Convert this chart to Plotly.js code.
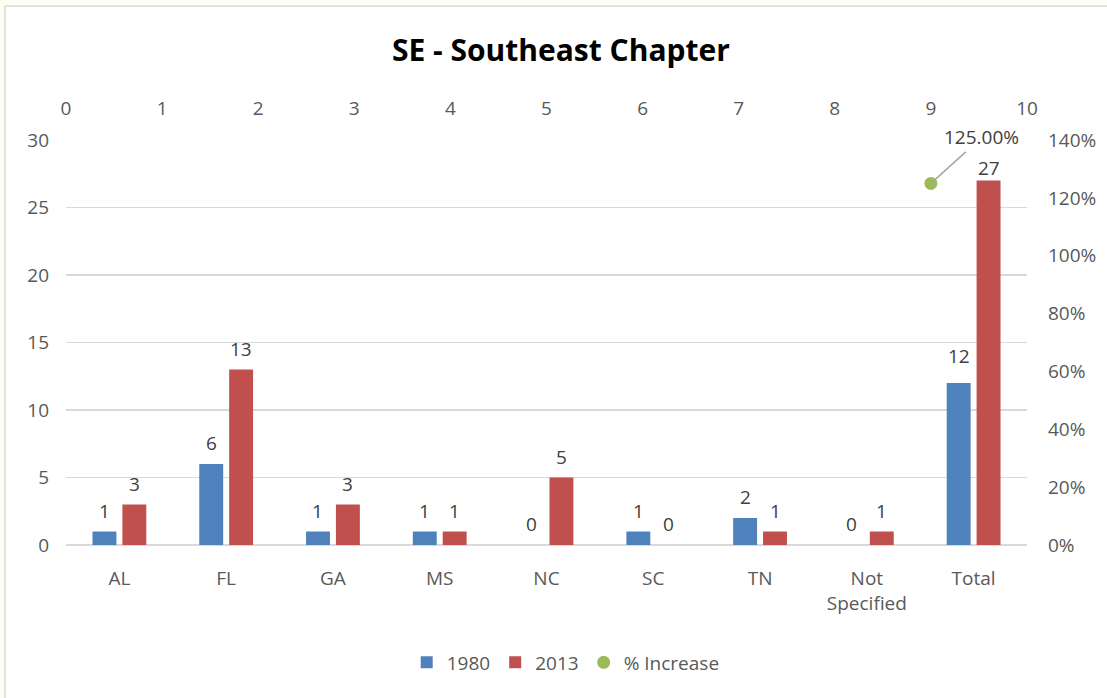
<!DOCTYPE html>
<html><head><meta charset="utf-8">
<script src="https://cdn.plot.ly/plotly-3.0.1.min.js"></script>
<style>html,body{margin:0;padding:0;background:#FDFDF3;}#chart{width:1107px;height:698px;}</style>
</head><body><div id="chart"></div>
<script>
var categories = ['AL','FL','GA','MS','NC','SC','TN','Not<br>Specified','Total'];
var values1980 = [1,6,1,1,0,1,2,0,12];
var values2013 = [3,13,3,1,5,0,1,1,27];
var increaseX = [9];
var increaseY = [1.25];
var increaseLabel = '125.00%';

var FONT = '"Open Sans", sans-serif';
var traces = [
  {type:'bar', name:'1980', x:categories, y:values1980, marker:{color:'#4F81BD'}, hoverinfo:'x+y'},
  {type:'bar', name:'2013', x:categories, y:values2013, marker:{color:'#C0504D'}, hoverinfo:'x+y'},
  {type:'scatter', mode:'markers', name:'% Increase', x:increaseX, y:increaseY,
   xaxis:'x2', yaxis:'y2', marker:{color:'#9BBB59', size:13}, cliponaxis:false}
];
var labelAnns = [];
function addLabels(vals, shift, lastShift){
  vals.forEach(function(v,i){
    var ys = (i === vals.length-1 && lastShift !== undefined) ? lastShift : 6;
    labelAnns.push({xref:'x', yref:'y', x:categories[i], y:v, text:String(v), showarrow:false,
      xanchor:'center', yanchor:'bottom', xshift:shift, yshift:ys,
      font:{family:FONT,size:19,color:'#404040'}});
  });
}
addLabels(values1980, -15, 12);
addLabels(values2013, 15, -2);
labelAnns.push({xref:'x2', yref:'y2', x:increaseX[0], y:increaseY[0], text:increaseLabel,
    showarrow:true, arrowhead:0, arrowwidth:1.5, arrowcolor:'#A6A6A6', ax:51, ay:-46,
    font:{family:FONT,size:19,color:'#404040'}});

var layout = {
  width:1107, height:698,
  paper_bgcolor:'#FDFDF3', plot_bgcolor:'rgba(0,0,0,0)',
  margin:{l:66, r:80, t:140, b:153},
  font:{family:FONT, color:'#595959', size:19},
  title:{text:'<b>SE - Southeast Chapter</b>', xref:'paper', x:0.515, xanchor:'center', y:0.928, yanchor:'middle',
         font:{family:FONT, size:30, color:'#000000'}},
  barmode:'group', bargap:0.44, bargroupgap:0.2,
  showlegend:true,
  legend:{orientation:'h', x:0.52, xanchor:'center', y:-0.29, yanchor:'middle', bgcolor:'rgba(0,0,0,0)',
          font:{family:FONT,size:19,color:'#595959'}, traceorder:'normal'},
  xaxis:{type:'category', showgrid:false, zeroline:false, showline:false, ticks:'', ticklabelstandoff:20,
         tickfont:{family:FONT,size:19,color:'#595959'}},
  xaxis2:{overlaying:'x', side:'top', range:[0,10], dtick:1, showgrid:false, zeroline:false,
          showline:false, ticks:'', ticklabelstandoff:20, tickfont:{family:FONT,size:19,color:'#595959'}},
  yaxis:{range:[0,30], dtick:5, showgrid:true, gridcolor:'#D9D9D9', gridwidth:1.3, zeroline:true,
         zerolinecolor:'#D9D9D9', zerolinewidth:1.3, showline:false, ticks:'', ticklabelstandoff:16,
         tickfont:{family:FONT,size:19,color:'#595959'}},
  yaxis2:{overlaying:'y', side:'right', range:[0,1.4], dtick:0.2, tickformat:'.0%', showgrid:false,
          zeroline:false, showline:false, ticks:'', ticklabelstandoff:20,
          tickfont:{family:FONT,size:19,color:'#595959'}},
  annotations: labelAnns,
  shapes:[{type:'rect', xref:'paper', yref:'paper', x0:-0.0635, x1:1.09, y0:-0.4, y1:1.331,
           fillcolor:'#FFFFFF', line:{color:'#D9D9D9', width:1.5}, layer:'below'}]
};
Plotly.newPlot('chart', traces, layout, {displayModeBar:false, staticPlot:true});
</script></body></html>
